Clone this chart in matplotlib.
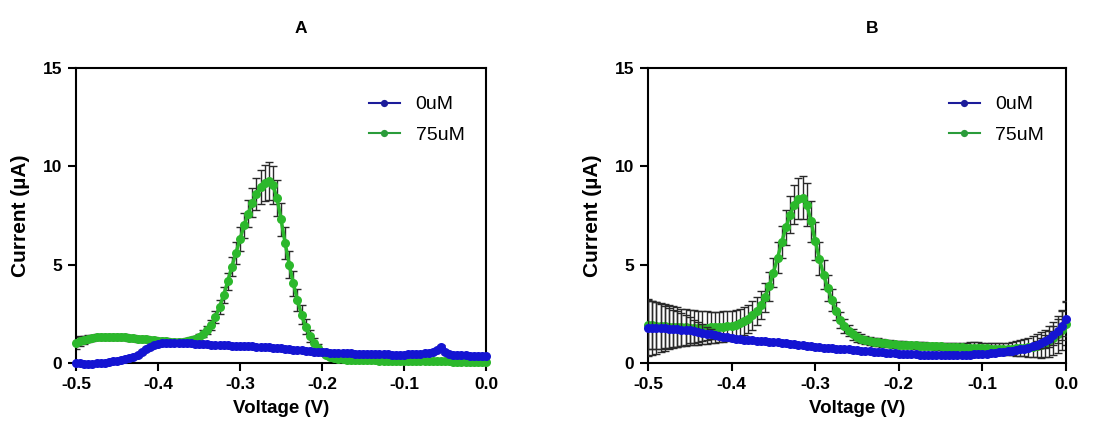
import numpy as np
import matplotlib
matplotlib.use('Agg')
import matplotlib.pyplot as plt

plt.rcParams['font.family'] = ['Liberation Sans', 'DejaVu Sans']

# voltage sweep, -0.5 V to 0 V in 5 mV steps
voltage = np.round(np.arange(101) * 0.005 - 0.5, 3)

# panel A
a_0uM = [0.00, -0.02, -0.04, -0.05, -0.04, -0.02, 0.00, 0.02, 0.05, 0.08,
         0.12, 0.16, 0.20, 0.25, 0.32, 0.42, 0.56, 0.70, 0.82, 0.90,
         0.96, 1.00, 1.02, 1.03, 1.04, 1.03, 1.02, 1.01, 1.00, 0.99,
         0.97, 0.96, 0.95, 0.94, 0.93, 0.92, 0.91, 0.90, 0.89, 0.88,
         0.87, 0.86, 0.85, 0.84, 0.83, 0.82, 0.80, 0.79, 0.77, 0.76,
         0.74, 0.72, 0.70, 0.68, 0.66, 0.64, 0.62, 0.60, 0.58, 0.57,
         0.55, 0.54, 0.53, 0.52, 0.51, 0.50, 0.50, 0.49, 0.48, 0.48,
         0.47, 0.46, 0.46, 0.45, 0.45, 0.44, 0.44, 0.43, 0.43, 0.42,
         0.42, 0.44, 0.46, 0.45, 0.48, 0.50, 0.52, 0.55, 0.65, 0.80,
         0.55, 0.45, 0.42, 0.40, 0.40, 0.39, 0.38, 0.38, 0.37, 0.36,
         0.36]
a_0uM_err = [0.10] * 101

a_75uM = [1.00, 1.10, 1.18, 1.24, 1.28, 1.30, 1.32, 1.33, 1.34, 1.34,
          1.33, 1.32, 1.30, 1.28, 1.26, 1.24, 1.22, 1.20, 1.18, 1.16,
          1.14, 1.12, 1.10, 1.09, 1.08, 1.08, 1.09, 1.11, 1.15, 1.22,
          1.32, 1.48, 1.68, 1.95, 2.35, 2.85, 3.45, 4.15, 4.90, 5.60,
          6.30, 7.00, 7.60, 8.15, 8.60, 8.95, 9.15, 9.25, 9.05, 8.40,
          7.30, 6.10, 5.00, 4.05, 3.20, 2.45, 1.85, 1.38, 1.02, 0.76,
          0.56, 0.42, 0.32, 0.26, 0.22, 0.19, 0.17, 0.16, 0.15, 0.15,
          0.14, 0.14, 0.13, 0.13, 0.12, 0.12, 0.12, 0.11, 0.11, 0.11,
          0.10, 0.10, 0.10, 0.10, 0.09, 0.09, 0.09, 0.09, 0.08, 0.08,
          0.08, 0.08, 0.07, 0.07, 0.07, 0.07, 0.06, 0.06, 0.06, 0.05,
          0.05]
a_75uM_err = ([0.30, 0.25, 0.20, 0.18, 0.16] + [0.15] * 26 +
              [0.18, 0.22, 0.26, 0.30, 0.35, 0.40, 0.45, 0.50, 0.55, 0.60,
               0.65, 0.70, 0.75, 0.80, 0.85, 0.90, 0.95, 0.95, 0.90, 0.85,
               0.80, 0.70, 0.62, 0.55, 0.48, 0.40, 0.32, 0.25, 0.20, 0.15,
               0.12, 0.10, 0.08, 0.07, 0.06, 0.05] + [0.05] * 34)

# panel B
b_0uM = [1.80, 1.79, 1.78, 1.77, 1.76, 1.75, 1.74, 1.72, 1.70, 1.68,
         1.66, 1.62, 1.58, 1.54, 1.50, 1.46, 1.42, 1.38, 1.34, 1.30,
         1.26, 1.23, 1.21, 1.19, 1.17, 1.15, 1.13, 1.12, 1.10, 1.09,
         1.07, 1.05, 1.02, 1.00, 0.97, 0.95, 0.92, 0.90, 0.87, 0.85,
         0.82, 0.80, 0.78, 0.77, 0.75, 0.73, 0.72, 0.70, 0.69, 0.67,
         0.65, 0.63, 0.61, 0.60, 0.58, 0.56, 0.55, 0.53, 0.52, 0.50,
         0.48, 0.47, 0.46, 0.45, 0.44, 0.43, 0.42, 0.42, 0.41, 0.41,
         0.40, 0.40, 0.40, 0.40, 0.41, 0.41, 0.42, 0.43, 0.44, 0.45,
         0.47, 0.48, 0.50, 0.52, 0.54, 0.56, 0.59, 0.62, 0.65, 0.69,
         0.73, 0.78, 0.84, 0.91, 1.00, 1.10, 1.23, 1.40, 1.62, 1.90,
         2.25]
b_0uM_err = ([1.45, 1.38, 1.30, 1.22, 1.14, 1.06, 0.98, 0.90, 0.82, 0.74,
              0.66, 0.58, 0.50, 0.42, 0.34, 0.26, 0.18] + [0.10] * 74 +
             [0.12, 0.15, 0.20, 0.25, 0.32, 0.40, 0.50, 0.62, 0.75, 0.90])

b_75uM = [1.95, 1.92, 1.90, 1.88, 1.86, 1.85, 1.84, 1.83, 1.82, 1.81,
          1.80, 1.80, 1.80, 1.80, 1.80, 1.81, 1.82, 1.83, 1.85, 1.87,
          1.90, 1.95, 2.02, 2.12, 2.25, 2.42, 2.65, 2.95, 3.35, 3.90,
          4.60, 5.35, 6.15, 6.90, 7.55, 8.05, 8.35, 8.40, 8.05, 7.20,
          6.20, 5.30, 4.50, 3.80, 3.20, 2.65, 2.20, 1.90, 1.65, 1.45,
          1.32, 1.24, 1.17, 1.12, 1.08, 1.05, 1.02, 1.00, 0.98, 0.96,
          0.94, 0.93, 0.92, 0.91, 0.90, 0.89, 0.88, 0.87, 0.86, 0.85,
          0.84, 0.83, 0.82, 0.81, 0.80, 0.79, 0.78, 0.77, 0.76, 0.75,
          0.74, 0.74, 0.73, 0.73, 0.72, 0.72, 0.72, 0.73, 0.74, 0.76,
          0.78, 0.80, 0.83, 0.87, 0.92, 1.00, 1.10, 1.25, 1.45, 1.70,
          2.00]
b_75uM_err = [1.25, 1.22, 1.18, 1.15, 1.12, 1.10, 1.05, 1.00, 0.95, 0.92,
              0.90, 0.88, 0.86, 0.84, 0.82, 0.80, 0.79, 0.78, 0.77, 0.76,
              0.75, 0.74, 0.73, 0.72, 0.72, 0.72, 0.72, 0.73, 0.74, 0.75,
              0.76, 0.78, 0.82, 0.88, 0.95, 1.00, 1.05, 1.10, 1.10, 1.05,
              0.95, 0.85, 0.75, 0.65, 0.55, 0.45, 0.40, 0.35, 0.30, 0.28,
              0.26, 0.24, 0.22, 0.21, 0.20, 0.20, 0.19, 0.19, 0.18, 0.18,
              0.18, 0.18, 0.17, 0.17, 0.17, 0.17, 0.17, 0.17, 0.17, 0.17,
              0.18, 0.18, 0.19, 0.20, 0.22, 0.24, 0.26, 0.28, 0.30, 0.30,
              0.30, 0.30, 0.30, 0.30, 0.30, 0.30, 0.32, 0.34, 0.36, 0.40,
              0.44, 0.48, 0.52, 0.58, 0.64, 0.70, 0.78, 0.86, 0.94, 1.02,
              1.10]

panels = [
  ('A', a_0uM, a_0uM_err, a_75uM, a_75uM_err),
  ('B', b_0uM, b_0uM_err, b_75uM, b_75uM_err),
]
labels = ['0uM', '75uM']
xticks = [-0.5, -0.4, -0.3, -0.2, -0.1, 0.0]
yticks = [0, 5, 10, 15]

blue = '#1414d2'
green = '#2cb82c'
errColor = '#2a2a2a'

fig = plt.figure(figsize=(11.13, 4.38), dpi=100)
axPos = [[0.0683, 0.1712, 0.3684, 0.6735], [0.5822, 0.1712, 0.3756, 0.6735]]
titleX = [0.270, 0.784]

for k, (name, blueY, blueErr, greenY, greenErr) in enumerate(panels):
  ax = fig.add_axes(axPos[k])

  ax.errorbar(voltage, greenY, yerr=greenErr, fmt='none', ecolor=errColor,
              elinewidth=1.0, capsize=3, capthick=1.0, zorder=2)
  ax.plot(voltage, greenY, '-o', color=green, ms=6.5, lw=2.5, mew=0,
          label=labels[1], zorder=3, clip_on=False)
  ax.errorbar(voltage, blueY, yerr=blueErr, fmt='none', ecolor=errColor,
              elinewidth=1.0, capsize=3, capthick=1.0, zorder=4)
  ax.plot(voltage, blueY, '-o', color=blue, ms=6.5, lw=2.5, mew=0,
          label=labels[0], zorder=5, clip_on=False)

  ax.set_xlim(-0.5, 0.0)
  ax.set_ylim(0, 15)
  ax.set_xticks(xticks)
  ax.set_xticklabels(['%.1f' % t for t in xticks])
  ax.set_yticks(yticks)

  for side in ['left', 'bottom', 'top', 'right']:
    ax.spines[side].set_linewidth(1.5)
  ax.tick_params(direction='out', length=6, width=1.5, labelsize=12.5, pad=4)
  for lbl in ax.get_xticklabels() + ax.get_yticklabels():
    lbl.set_fontweight('bold')

  ax.set_xlabel('Voltage (V)', fontsize=13.5, fontweight='bold', labelpad=6)
  ax.set_ylabel('Current (\u00b5A)', fontsize=15, fontweight='bold', labelpad=9)

  handles, names = ax.get_legend_handles_labels()
  leg = ax.legend([handles[1], handles[0]], [names[1], names[0]], loc='upper right',
                  bbox_to_anchor=(0.99, 0.965), frameon=False, fontsize=14,
                  handlelength=1.6, handletextpad=0.8, labelspacing=0.65,
                  markerscale=0.8)
  leg.get_lines()[0].set_color('#1c1c9a')
  leg.get_lines()[1].set_color('#2a9c3a')
  for line in leg.get_lines():
    line.set_linewidth(1.5)

  fig.text(titleX[k], 0.936, name, ha='center', va='center',
           fontsize=12.5, fontweight='bold')

plt.savefig('out.png', dpi=100)
